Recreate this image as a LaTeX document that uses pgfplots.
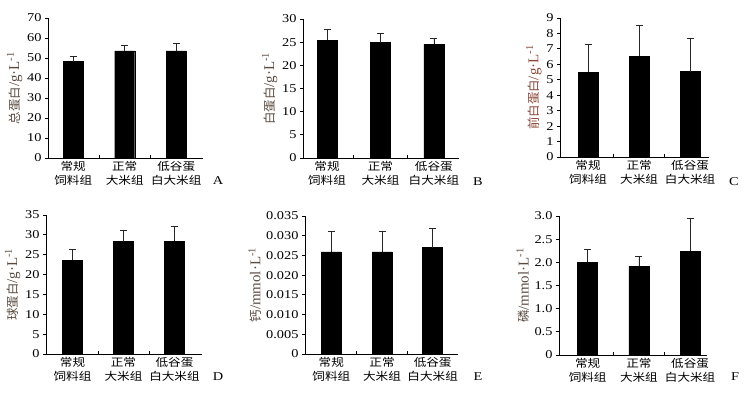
\documentclass[border=0pt]{standalone}
\usepackage{pgfplots}
\pgfplotsset{compat=1.18}
\usepackage{fontspec}
\setmainfont{Liberation Serif}
\newfontfamily\tickfont{Liberation Serif}[FakeStretch=1.2]
\newfontfamily\cjk{Noto Sans CJK SC}
\newfontfamily\cjkw{Noto Sans CJK SC}[FakeStretch=1.15]
\definecolor{labc}{RGB}{90,75,65}
\definecolor{labr}{RGB}{140,70,55}
\newcommand{\yl}[2]{{\cjk\fontsize{12.5}{14}\selectfont #1}/#2}
\pgfplotsset{
 panel/.style={
  scale only axis, ybar, bar width=20bp,
  axis lines=left, axis line style={-, line width=0.8pt},
  ymin=0, xtick={0,1,2},
  xticklabels={{常规\\饲料组},{正常\\大米组},{低谷蛋\\白大米组}},
  x tick label style={align=center, font=\cjkw\fontsize{11}{14}\selectfont, text=black},
  y tick label style={font=\tickfont\fontsize{12}{14}\selectfont},
  minor xtick={0.5,1.5},
  major x tick style={draw=none},
  xtick align=inside, ytick align=outside,
  major tick length=3bp, minor tick length=3bp,
  tick style={line width=0.8pt, black},
  /pgf/number format/assume math mode=true,
  scaled y ticks=false,
  ylabel style={font=\fontsize{15}{17}\selectfont, text=labc, yshift=-2bp},
 },
 bars/.style={fill=black, draw=black, error bars/.cd, y dir=plus, y explicit,
  error bar style={line width=0.8pt, black!85}, error mark options={rotate=90, line width=0.8pt, mark size=3.5bp, black!85}}
}
\begin{document}
\begin{tikzpicture}[x=1bp,y=1bp]
\path[use as bounding box] (0,0) rectangle (748,397);
% A
\begin{axis}[panel, at={(48bp,239bp)}, anchor=south west, width=155bp, height=140bp,
  xmin=-0.49, xmax=2.52, ymax=70, ytick={0,10,...,70},
  ylabel={\yl{总蛋白}{g·L\textsuperscript{-1}}}]
\addplot[bars] coordinates {(0,48.2) +- (0,2.5) (1,53.6) +- (0,2.8) (2,53.6) +- (0,3.7)};
\end{axis}
% B
\begin{axis}[panel, at={(303bp,239bp)}, anchor=south west, width=156bp, height=139bp,
  xmin=-0.45, xmax=2.47, ymax=30, ytick={0,5,...,30},
  ylabel={\yl{白蛋白}{g·L\textsuperscript{-1}}}]
\addplot[bars] coordinates {(0,25.4) +- (0,2.35) (1,24.9) +- (0,2.0) (2,24.5) +- (0,1.3)};
\end{axis}
% C
\begin{axis}[panel, at={(560bp,240bp)}, anchor=south west, width=149bp, height=139bp,
  xmin=-0.55, xmax=2.37, ymax=9, ytick={0,1,...,9},
  ylabel style={text=labr},
  ylabel={\yl{前白蛋白}{g·L\textsuperscript{-1}}}]
\addplot[bars] coordinates {(0,5.48) +- (0,1.79) (1,6.52) +- (0,2.01) (2,5.53) +- (0,2.15)};
\end{axis}
% D
\begin{axis}[panel, at={(46bp,43bp)}, anchor=south west, width=156bp, height=139bp,
  xmin=-0.52, xmax=2.54, ymax=35, ytick={0,5,...,35},
  ylabel={\yl{球蛋白}{g·L\textsuperscript{-1}}}]
\addplot[bars] coordinates {(0,23.6) +- (0,2.8) (1,28.3) +- (0,2.8) (2,28.4) +- (0,3.7)};
\end{axis}
% E
\begin{axis}[panel, at={(305bp,43bp)}, anchor=south west, width=153bp, height=138bp,
  xmin=-0.52, xmax=2.5, ymax=0.035, ytick={0,0.005,0.01,0.015,0.02,0.025,0.03,0.035},
  yticklabels={0,0.005,0.010,0.015,0.020,0.025,0.030,0.035},
  ylabel={\yl{钙}{mmol·L\textsuperscript{-1}}}]
\addplot[bars] coordinates {(0,0.0259) +- (0,0.0053) (1,0.0259) +- (0,0.0053) (2,0.0270) +- (0,0.0049)};
\end{axis}
% F
\begin{axis}[panel, at={(559bp,42bp)}, anchor=south west, width=148bp, height=139bp,
  xmin=-0.56, xmax=2.33, ymax=3, ytick={0,0.5,1,1.5,2,2.5,3},
  yticklabels={0,0.5,1.0,1.5,2.0,2.5,3.0},
  ylabel={\yl{磷}{mmol·L\textsuperscript{-1}}}]
\addplot[bars] coordinates {(0,2.0) +- (0,0.28) (1,1.92) +- (0,0.21) (2,2.24) +- (0,0.70)};
\end{axis}
\node[font=\tickfont\fontsize{12}{14}\selectfont] at (218,216) {A};
\node[font=\tickfont\fontsize{12}{14}\selectfont] at (478,215) {B};
\node[font=\tickfont\fontsize{12}{14}\selectfont] at (734,215) {C};
\node[font=\tickfont\fontsize{12}{14}\selectfont] at (218,20) {D};
\node[font=\tickfont\fontsize{12}{14}\selectfont] at (478,20) {E};
\node[font=\tickfont\fontsize{12}{14}\selectfont] at (735,20) {F};
\end{tikzpicture}
\end{document}
